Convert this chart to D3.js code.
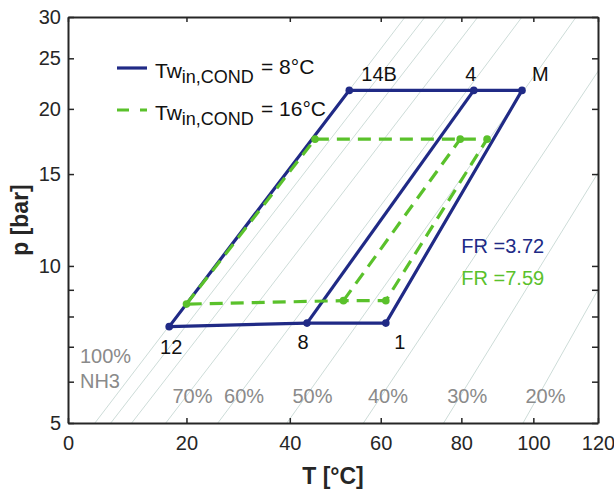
<!DOCTYPE html>
<html>
<head>
<meta charset="utf-8">
<script src="https://cdn.jsdelivr.net/npm/d3@7"></script>
<style>
  body { margin: 0; background: #fff; }
  svg { display: block; font-family: "Liberation Sans", Arial, sans-serif; }
  .axis text { font-size: 20px; fill: #262626; }
  .axis path, .axis line { stroke: #262626; }
</style>
</head>
<body>
<div id="chart"></div>
<script>
// isosteres (NH3 mass fraction), temperature where each line meets p = 5 bar and p = 30 bar
let isoConc = [100, 90, 80, 70, 60, 50, 40, 30, 20];
let isoT5 = [4.3, 6.9, 10.4, 16.3, 25.8, 39.4, 56.0, 75.4, 97.0];
let isoT30 = [65.8, 70.7, 76.2, 84.4, 96.7, 113.0, 132.2, 154.1, 177.3];
let isoLabelled = [70, 60, 50, 40, 30, 20];

// cycle points
let pointNames = ['12', '14B', '4', 'M', '1', '8'];
let blueT = [16.9, 52.8, 83.3, 96.7, 61.2, 43.6];
let blueP = [7.65, 21.7, 21.7, 21.7, 7.77, 7.77];
let greenT = [20.0, 45.3, 79.7, 86.9, 61.2, 51.5];
let greenP = [8.45, 17.5, 17.5, 17.5, 8.58, 8.58];

let xTicks = [0, 20, 40, 60, 80, 100, 120];
let yTicks = [5, 6, 7, 8, 9, 10, 15, 20, 25, 30];
let yLabels = [5, 10, 15, 20, 25, 30];

let frValues = ['3.72', '7.59'];
let legendLabels = ['8°C', '16°C'];

let blue = '#202a86',
    green = '#5ac12b',
    grey = '#8a8a8a',
    isoColor = '#cddcd8';

let width = 614,
    height = 494,
    margins = { top: 17, right: 16, bottom: 71, left: 68 };

let toU = T => -1 / (T + 273.15);

let xu = d3.scaleLinear()
  .domain([toU(0), toU(120)])
  .range([margins.left, width - margins.right]);
let x = T => xu(toU(T));

let y = d3.scaleLog()
  .domain([5, 30])
  .range([height - margins.bottom, margins.top]);

let $svg = d3.select('#chart').append('svg')
  .attr('width', width)
  .attr('height', height);

$svg.append('clipPath').attr('id', 'clip')
  .append('rect')
  .attr('x', margins.left)
  .attr('y', margins.top)
  .attr('width', width - margins.left - margins.right)
  .attr('height', height - margins.top - margins.bottom);

// isosteres
let $iso = $svg.append('g').attr('clip-path', 'url(#clip)');
$iso.selectAll('line')
  .data(isoConc)
  .enter()
  .append('line')
  .attr('x1', (d, i) => x(isoT5[i]))
  .attr('y1', y(5))
  .attr('x2', (d, i) => x(isoT30[i]))
  .attr('y2', y(30))
  .style('stroke', isoColor)
  .style('stroke-width', 1);

// concentration labels, sit on their line a bit above the bottom
let labelP = 5.47;
function isoX(c, p) {
  let i = isoConc.indexOf(c);
  let t = Math.log(p / 5) / Math.log(30 / 5);
  return xu(toU(isoT5[i]) + t * (toU(isoT30[i]) - toU(isoT5[i])));
}
$svg.append('g').selectAll('text')
  .data(isoLabelled)
  .enter()
  .append('text')
  .attr('x', d => isoX(d, labelP) - 9)
  .attr('y', y(labelP))
  .style('font-size', '20px')
  .style('fill', grey)
  .text(d => d + '%');

$svg.append('text')
  .attr('x', x(1.9)).attr('y', y(6.51))
  .style('font-size', '20px').style('fill', grey)
  .text('100%');
$svg.append('text')
  .attr('x', x(1.9)).attr('y', y(5.83))
  .style('font-size', '20px').style('fill', grey)
  .text('NH3');

// axes
let xAxisBottom = d3.axisBottom(xu)
  .tickValues(xTicks.map(toU))
  .tickFormat((d, i) => xTicks[i])
  .tickSizeInner(-5)
  .tickSizeOuter(0)
  .tickPadding(13);
let xAxisTop = d3.axisTop(xu)
  .tickValues(xTicks.map(toU))
  .tickFormat('')
  .tickSizeInner(-5)
  .tickSizeOuter(0);
let yAxisLeft = d3.axisLeft(y)
  .tickValues(yTicks)
  .tickFormat(d => yLabels.indexOf(d) > -1 ? d : '')
  .tickSizeInner(-6)
  .tickSizeOuter(0)
  .tickPadding(7);
let yAxisRight = d3.axisRight(y)
  .tickValues(yTicks)
  .tickFormat('')
  .tickSizeInner(-6)
  .tickSizeOuter(0);

$svg.append('g').attr('class', 'axis')
  .attr('transform', `translate(0,${y(5)})`).call(xAxisBottom);
$svg.append('g').attr('class', 'axis')
  .attr('transform', `translate(0,${y(30)})`).call(xAxisTop);
$svg.append('g').attr('class', 'axis')
  .attr('transform', `translate(${margins.left},0)`).call(yAxisLeft);
$svg.append('g').attr('class', 'axis')
  .attr('transform', `translate(${width - margins.right},0)`).call(yAxisRight);

$svg.selectAll('.axis .domain').style('stroke-width', 2);
$svg.selectAll('.axis line').style('stroke-width', 1.5);

// axis titles
$svg.append('text')
  .attr('x', (margins.left + width - margins.right) / 2)
  .attr('y', 484)
  .attr('text-anchor', 'middle')
  .style('font-size', '23px').style('font-weight', 'bold').style('fill', '#262626')
  .text('T [°C]');
$svg.append('text')
  .attr('transform', `translate(28,${(margins.top + height - margins.bottom) / 2}) rotate(-90)`)
  .attr('text-anchor', 'middle')
  .style('font-size', '23px').style('font-weight', 'bold').style('fill', '#262626')
  .text('p [bar]');

// cycles
function drawCycle(T, P, color, dash) {
  let pts = T.map((t, i) => [x(t), y(P[i])]);
  let line = d3.line();
  let $g = $svg.append('g').attr('clip-path', 'url(#clip)');
  // 12 -> 14B -> 4 -> M -> 1 -> 8 -> 12, then 8 -> 4
  $g.append('path')
    .attr('d', line([pts[0], pts[1], pts[2], pts[3], pts[4], pts[5], pts[0]]))
    .style('fill', 'none')
    .style('stroke', color)
    .style('stroke-width', 3.2)
    .style('stroke-dasharray', dash);
  $g.append('path')
    .attr('d', line([pts[5], pts[2]]))
    .style('fill', 'none')
    .style('stroke', color)
    .style('stroke-width', 3.2)
    .style('stroke-dasharray', dash);
  $g.selectAll('circle')
    .data(pts)
    .enter()
    .append('circle')
    .attr('cx', d => d[0])
    .attr('cy', d => d[1])
    .attr('r', 3.8)
    .style('fill', color);
}

drawCycle(blueT, blueP, blue, null);
drawCycle(greenT, greenP, green, '13,8');

// point names (offsets from the blue points)
let nameOffsets = [[2, 27, 'middle'], [12, -9, 'start'], [-3, -9, 'middle'], [10, -9, 'start'], [14, 26, 'middle'], [-4, 26, 'middle']];
$svg.append('g').selectAll('text')
  .data(pointNames)
  .enter()
  .append('text')
  .attr('x', (d, i) => x(blueT[i]) + nameOffsets[i][0])
  .attr('y', (d, i) => y(blueP[i]) + nameOffsets[i][1])
  .attr('text-anchor', (d, i) => nameOffsets[i][2])
  .style('font-size', '20px')
  .style('fill', '#111')
  .text(d => d);

// FR annotations
$svg.append('text')
  .attr('x', x(80)).attr('y', y(10.59))
  .style('font-size', '20px').style('fill', blue)
  .text('FR =' + frValues[0]);
$svg.append('text')
  .attr('x', x(80)).attr('y', y(9.2))
  .style('font-size', '20px').style('fill', green)
  .text('FR =' + frValues[1]);

// legend
let legendColors = [blue, green];
let legendDash = [null, '12,11'];
legendLabels.forEach((lab, i) => {
  let cy = 68 + i * 42;
  $svg.append('line')
    .attr('x1', 117).attr('x2', 147)
    .attr('y1', cy).attr('y2', cy)
    .style('stroke', legendColors[i])
    .style('stroke-width', 3.2)
    .style('stroke-dasharray', legendDash[i]);
  let $t = $svg.append('text')
    .attr('x', 155)
    .attr('y', cy + 10)
    .style('font-size', '21px')
    .style('fill', '#111');
  $t.append('tspan').text('Tw');
  $t.append('tspan')
    .attr('dy', 5)
    .style('font-size', '18px')
    .text('in,COND');
  $t.append('tspan')
    .attr('x', 261)
    .attr('y', cy + 6)
    .text('= ' + lab);
});
</script>
</body>
</html>
